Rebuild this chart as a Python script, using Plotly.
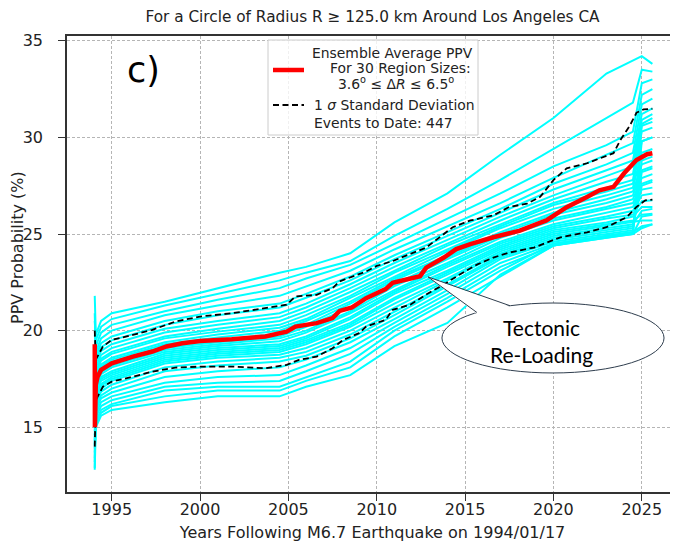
import plotly.graph_objects as go

# ---------------- data ----------------
knot_years = [1994.04, 1994.1, 1994.4, 1995, 1998, 2001, 2004.5, 2006, 2008.5, 2011,
              2014, 2017, 2020, 2023, 2024.5, 2025.0, 2025.6]

region_curves = [
    [21.8, 19.8, 20.5, 20.9, 21.5, 22.2, 23.0, 23.3, 24.0, 25.6, 27.1, 29.1, 31.0, 33.3, 34.0, 34.2, 33.8],
    [20.5, 19.5, 20.2, 20.6, 21.3, 21.9, 22.6, 23.0, 23.6, 24.9, 26.3, 27.8, 29.4, 31.0, 31.8, 33.5, 33.4],
    [19.8, 19.2, 19.9, 20.3, 21.0, 21.6, 22.2, 22.7, 23.4, 24.5, 25.8, 27.1, 28.5, 29.6, 30.3, 32.8, 33.0],
    [18.9, 18.9, 19.6, 20.0, 20.8, 21.3, 21.8, 22.3, 23.1, 24.2, 25.4, 26.6, 27.9, 29.1, 29.7, 32.2, 32.5],
    [20.9, 18.7, 19.35, 19.7, 20.5, 21.0, 21.4, 21.9, 22.8, 23.9, 25.1, 26.3, 27.6, 28.6, 29.2, 31.7, 32.0],
    [17.6, 18.5, 19.15, 19.5, 20.3, 20.8, 21.2, 21.7, 22.6, 23.7, 24.9, 26.1, 27.3, 28.3, 28.8, 31.2, 31.5],
    [16.8, 18.3, 18.95, 19.3, 20.1, 20.5, 20.9, 21.4, 22.4, 23.5, 24.7, 25.9, 27.0, 28.0, 28.5, 30.9, 31.2],
    [19.2, 18.1, 18.75, 19.1, 19.9, 20.3, 20.7, 21.2, 22.2, 23.3, 24.5, 25.7, 26.8, 27.7, 28.1, 30.6, 30.8],
    [15.9, 17.9, 18.55, 18.9, 19.7, 20.1, 20.5, 21.0, 22.0, 23.1, 24.4, 25.5, 26.6, 27.4, 27.8, 30.3, 30.5],
    [18.2, 17.8, 18.45, 18.8, 19.6, 19.95, 20.3, 20.8, 21.8, 23.0, 24.2, 25.4, 26.5, 27.2, 27.6, 29.8, 30.0],
    [14.8, 17.6, 18.25, 18.6, 19.4, 19.8, 20.15, 20.6, 21.7, 22.8, 24.1, 25.3, 26.3, 27.0, 27.4, 29.2, 29.4],
    [17.1, 17.5, 18.15, 18.5, 19.3, 19.65, 20.0, 20.5, 21.5, 22.7, 23.9, 25.1, 26.1, 26.8, 27.2, 28.6, 28.8],
    [13.9, 17.4, 18.05, 18.4, 19.2, 19.5, 19.85, 20.3, 21.4, 22.6, 23.8, 25.0, 26.0, 26.6, 27.0, 28.3, 28.5],
    [16.4, 17.3, 17.95, 18.3, 19.1, 19.4, 19.7, 20.2, 21.2, 22.4, 23.7, 24.9, 25.8, 26.4, 26.8, 27.9, 28.1],
    [15.3, 17.2, 17.85, 18.2, 19.0, 19.3, 19.6, 20.0, 21.0, 22.3, 23.5, 24.8, 25.7, 26.3, 26.6, 27.6, 27.8],
    [18.5, 17.1, 17.75, 18.1, 18.9, 19.2, 19.45, 19.9, 20.9, 22.1, 23.4, 24.6, 25.5, 26.1, 26.4, 27.3, 27.4],
    [12.8, 17.0, 17.6, 17.9, 18.8, 19.1, 19.3, 19.7, 20.7, 22.0, 23.3, 24.5, 25.4, 25.9, 26.2, 27.0, 27.1],
    [16.1, 16.9, 17.5, 17.8, 18.7, 19.0, 19.2, 19.6, 20.6, 21.9, 23.1, 24.4, 25.3, 25.8, 26.0, 26.7, 26.75],
    [14.3, 16.8, 17.4, 17.7, 18.6, 18.9, 19.1, 19.5, 20.4, 21.7, 23.0, 24.3, 25.2, 25.6, 25.9, 26.4, 26.4],
    [17.9, 16.6, 17.25, 17.6, 18.5, 18.8, 19.0, 19.4, 20.3, 21.6, 22.9, 24.2, 25.1, 25.5, 25.7, 26.0, 26.05],
    [13.4, 16.5, 17.15, 17.5, 18.4, 18.7, 18.9, 19.3, 20.2, 21.4, 22.7, 24.1, 25.0, 25.4, 25.6, 25.7, 25.7],
    [15.6, 16.3, 17.0, 17.4, 18.3, 18.6, 18.75, 19.1, 20.0, 21.2, 22.6, 24.0, 24.9, 25.3, 25.5, 26.2, 26.3],
    [14.1, 16.2, 16.85, 17.2, 18.1, 18.4, 18.6, 18.9, 19.8, 21.0, 22.4, 23.9, 24.8, 25.2, 25.4, 27.5, 27.7],
    [16.6, 16.0, 16.65, 17.0, 17.9, 18.2, 18.4, 18.7, 19.6, 20.8, 22.3, 23.8, 24.7, 25.1, 25.3, 28.2, 28.4],
    [13.2, 15.9, 16.5, 16.8, 17.6, 17.9, 18.1, 18.5, 19.4, 20.6, 22.1, 23.7, 24.6, 25.0, 25.2, 28.8, 29.0],
    [15.0, 15.7, 16.3, 16.6, 17.3, 17.6, 17.7, 18.2, 19.1, 20.4, 21.9, 23.5, 24.5, 24.9, 25.1, 29.8, 30.0],
    [17.4, 15.5, 16.1, 16.4, 17.1, 17.3, 17.4, 17.9, 18.8, 20.2, 21.7, 23.3, 24.4, 24.8, 25.0, 30.7, 31.0],
    [13.7, 15.3, 15.9, 16.2, 16.9, 17.1, 17.1, 17.6, 18.4, 20.0, 21.5, 23.1, 24.5, 24.9, 25.1, 25.4, 25.5],
    [14.6, 15.1, 15.75, 16.1, 16.6, 16.9, 16.9, 17.4, 18.1, 19.7, 21.2, 22.8, 24.4, 24.8, 25.0, 25.9, 26.0],
    [12.9, 15.0, 15.6, 15.9, 16.3, 16.6, 16.6, 17.1, 17.7, 19.2, 20.4, 22.9, 24.4, 24.9, 25.0, 25.3, 25.5],
]

mean_years = [1994.04, 1994.05, 1994.1, 1994.2, 1994.4, 1995.0, 1996.2, 1997.3, 1998.1,
              1999.0, 2000.0, 2001.8, 2003.7, 2004.9, 2005.4, 2006.6, 2007.5, 2007.9,
              2008.6, 2009.4, 2010.0, 2010.5, 2010.9, 2012.45, 2012.8, 2013.8, 2014.5,
              2015.3, 2016.6, 2018.1, 2019.6, 2020.75, 2021.9, 2022.6, 2023.4, 2024.0,
              2024.7, 2025.3, 2025.6]
mean_ppv = [19.3, 15.0, 17.2, 17.62, 17.97, 18.31, 18.66, 18.92, 19.18,
            19.35, 19.47, 19.56, 19.7, 19.95, 20.21, 20.39, 20.65, 21.02,
            21.2, 21.68, 21.95, 22.15, 22.48, 22.82, 23.26, 23.78, 24.22,
            24.48, 24.83, 25.17, 25.7, 26.39, 26.92, 27.26, 27.44, 28.14,
            28.83, 29.13, 29.18]

upper_years = [1994.04, 1994.1, 1994.5, 1995.0, 1996.2, 1997.3, 1998.6, 2000.0, 2001.8,
               2003.7, 2004.9, 2005.4, 2006.6, 2007.5, 2007.9, 2009.4, 2010.0, 2010.9,
               2012.8, 2014.3, 2015.3, 2016.6, 2017.5, 2018.5, 2019.25, 2020.0, 2020.75,
               2021.9, 2023.4, 2023.8, 2024.3, 2024.7, 2025.1, 2025.6]
upper_sigma = [20.0, 18.5, 19.18, 19.52, 19.78, 20.04, 20.47, 20.73, 20.9,
               21.16, 21.34, 21.77, 21.85, 22.2, 22.55, 23.06, 23.35, 23.6,
               24.3, 25.35, 25.7, 25.96, 26.4, 26.57, 26.92, 27.79, 28.4,
               28.66, 29.18, 29.88, 30.57, 31.27, 31.45, 31.48]

lower_years = [1994.04, 1994.1, 1994.5, 1995.0, 1996.2, 1997.3, 1998.6, 2000.0, 2001.8,
               2003.7, 2004.9, 2005.6, 2006.6, 2007.5, 2008.1, 2009.0, 2009.4, 2010.5,
               2010.9, 2011.9, 2012.8, 2013.8, 2014.7, 2015.7, 2016.6, 2017.5, 2018.9,
               2020.4, 2021.9, 2023.0, 2024.15, 2024.7, 2025.2, 2025.6]
lower_sigma = [14.0, 16.4, 17.1, 17.36, 17.62, 17.88, 18.09, 18.14, 18.14,
               18.05, 18.23, 18.49, 18.66, 19.09, 19.52, 19.87, 20.21, 20.56,
               21.08, 21.34, 21.87, 22.39, 22.91, 23.43, 23.78, 24.04, 24.3,
               24.83, 25.09, 25.35, 25.87, 26.4, 26.74, 26.78]

x_ticks = [1995, 2000, 2005, 2010, 2015, 2020, 2025]
y_ticks = [15, 20, 25, 30, 35]

title_text = "For a Circle of Radius R \u2265 125.0 km Around Los Angeles CA"
x_title = "Years Following M6.7 Earthquake on 1994/01/17"
y_title = "PPV Probability (%)"
legend_mean_lines = ["Ensemble Average PPV", "For 30 Region Sizes:",
                     "3.6<sup>o</sup> \u2264 \u0394<i>R</i> \u2264 6.5<sup>o</sup>"]
legend_sigma = "1 <i>\u03c3</i> Standard Deviation"
legend_events = "Events to Date: 447"

# ---------------- figure ----------------
FONT = "DejaVu Sans"
TXT = "#222222"
fig = go.Figure()

for curve in region_curves:
    fig.add_trace(go.Scatter(x=knot_years, y=curve, mode="lines",
                             line=dict(color="#00ffff", width=2),
                             showlegend=False, hoverinfo="skip"))

fig.add_trace(go.Scatter(x=upper_years, y=upper_sigma, mode="lines", name="1 sigma (upper)",
                         line=dict(color="black", width=1.8, dash="6px,3.5px"),
                         showlegend=False))
fig.add_trace(go.Scatter(x=lower_years, y=lower_sigma, mode="lines", name="1 sigma (lower)",
                         line=dict(color="black", width=1.8, dash="6px,3.5px"),
                         showlegend=False))
fig.add_trace(go.Scatter(x=mean_years, y=mean_ppv, mode="lines", name="Ensemble Average PPV",
                         line=dict(color="#ff0000", width=4.5), showlegend=False))

axis_common = dict(
    showline=True, linecolor="#333333", linewidth=1.6,
    ticks="outside", ticklen=7, tickwidth=1.3, tickcolor="#333333",
    showgrid=True, gridcolor="#b5b5b5", gridwidth=1, griddash="3px,2px",
    zeroline=False, tickfont=dict(family=FONT, size=16, color=TXT),
)

# The page body has an 8 px margin; the plot area is placed so that on screen it
# spans x 67..(678+) and y 36..492.
fig.update_layout(
    width=670, height=539,
    margin=dict(l=59, r=0, t=28, b=55),
    paper_bgcolor="white", plot_bgcolor="white",
    font=dict(family=FONT, color=TXT),
    title=dict(text=title_text, x=0.5, xref="paper", xanchor="center",
               y=1, yref="container", yanchor="top", pad=dict(t=3, b=0),
               font=dict(family=FONT, size=15.3, color=TXT)),
    xaxis=dict(range=[1992.47, 2027.05], tickvals=x_ticks, mirror=True,
               ticklabelstandoff=-5,
               title=dict(text=x_title, standoff=9,
                          font=dict(family=FONT, size=16, color=TXT)),
               **axis_common),
    yaxis=dict(range=[11.653, 35.243], tickvals=y_ticks, mirror=False,
               ticklabelstandoff=12,
               **axis_common),
    showlegend=False,
)

# helpers: screen pixel -> paper fraction of plot area
PL, PT, PW, PH = 67.0, 36.0, 611.0, 456.0
def pxx(sx):
    return (sx - PL) / PW
def pyy(sy):
    return (PT + PH - sy) / PH

# y-axis title (placed where the reference shows it)
fig.add_annotation(xref="paper", yref="paper", x=pxx(17), y=pyy(248),
                   text=y_title, textangle=-90, showarrow=False,
                   xanchor="center", yanchor="middle",
                   font=dict(family=FONT, size=16, color=TXT))

# ----- legend box (drawn by hand to match line spacing) -----
fig.add_shape(type="rect", xref="paper", yref="paper",
              x0=pxx(268), x1=pxx(478), y0=pyy(135), y1=pyy(40),
              fillcolor="rgba(255,255,255,0.8)", line=dict(color="#cccccc", width=1),
              layer="above")
fig.add_shape(type="line", xref="paper", yref="paper",
              x0=pxx(273), x1=pxx(304), y0=pyy(70), y1=pyy(70),
              line=dict(color="#ff0000", width=4.5), layer="above")
fig.add_shape(type="line", xref="paper", yref="paper",
              x0=pxx(273), x1=pxx(304), y0=pyy(105), y1=pyy(105),
              line=dict(color="black", width=1.8, dash="6px,3.5px"), layer="above")
for line_text, sx, sy in zip(legend_mean_lines, [392, 400, 396], [53, 68, 83]):
    fig.add_annotation(xref="paper", yref="paper", x=pxx(sx), y=pyy(sy),
                       text=line_text, showarrow=False, xanchor="center", yanchor="middle",
                       font=dict(family=FONT, size=13.9, color=TXT))
for line_text, sy in zip([legend_sigma, legend_events], [105, 123]):
    fig.add_annotation(xref="paper", yref="paper", x=pxx(312), y=pyy(sy),
                       text=line_text, showarrow=False, xanchor="left", yanchor="middle",
                       font=dict(family=FONT, size=13.9, color=TXT))

# "c)" panel label
fig.add_annotation(x=1996.78, y=33.48, xref="x", yref="y", text="c)",
                   showarrow=False, font=dict(family=FONT, size=35, color="black"))

# Callout: ellipse + tail
OUTLINE = "#2f3e4e"
fig.add_shape(type="circle", xref="x", yref="y", x0=2013.69, x1=2026.26,
              y0=17.81, y1=21.43, fillcolor="white",
              line=dict(color=OUTLINE, width=1), layer="above")
apex = (2012.90, 22.78)
pa = (2015.67, 20.94)
pb = (2017.54, 21.29)
fig.add_shape(type="path", xref="x", yref="y",
              path=f"M {apex[0]},{apex[1]} L {pa[0]},{pa[1]-0.06} L {pb[0]},{pb[1]-0.06} Z",
              fillcolor="white", line=dict(width=0), layer="above")
for p in (pa, pb):
    fig.add_shape(type="line", xref="x", yref="y", x0=apex[0], y0=apex[1],
                  x1=p[0], y1=p[1], line=dict(color=OUTLINE, width=1), layer="above")

fig.add_annotation(x=2019.35, y=19.49, xref="x", yref="y",
                   text="Tectonic<br>Re-Loading", showarrow=False,
                   font=dict(family="Lato", size=21, color="black"))

fig.write_html("out.html")
